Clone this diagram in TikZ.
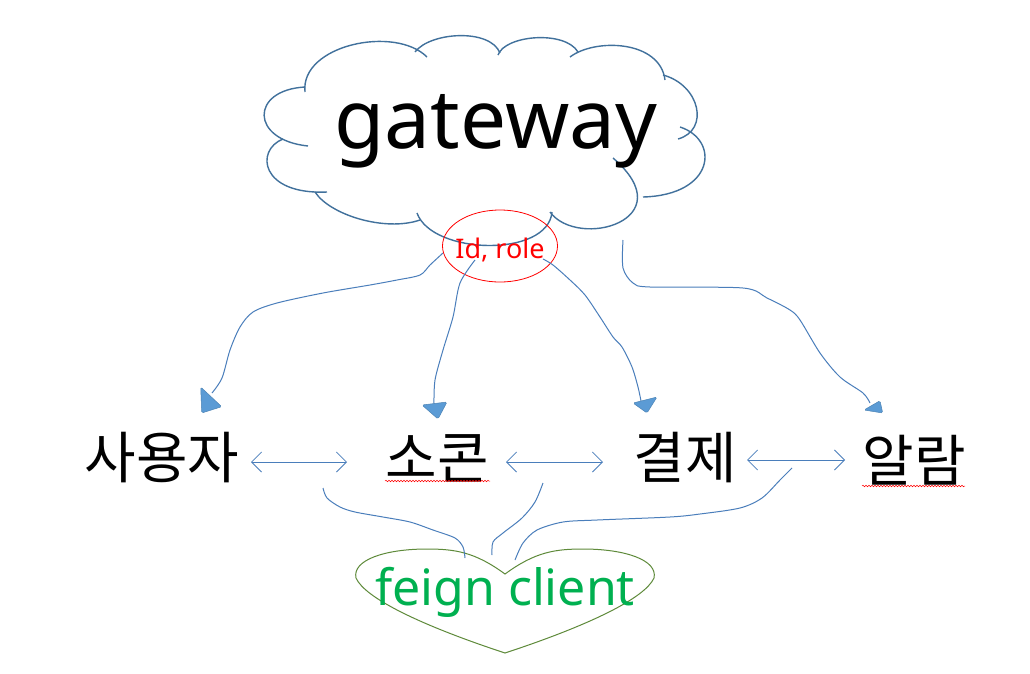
\documentclass[tikz,border=0pt]{standalone}
\usepackage{fontspec}
\setmainfont{Noto Sans}
\newfontfamily\kr{Noto Sans CJK KR}
\usetikzlibrary{arrows.meta,shapes.geometric,decorations.pathmorphing}
\definecolor{cloudc}{HTML}{41719C}
\definecolor{connc}{HTML}{4A7EBB}
\definecolor{headc}{HTML}{5B9BD5}
\definecolor{heartc}{HTML}{5E8A3A}
\definecolor{feignc}{HTML}{00B050}
\tikzset{
  cloudline/.style={draw=cloudc, line width=1.4pt},
  conn/.style={draw=connc, line width=1pt},
  headfill/.style={fill=headc, draw=headc!85!black, line width=0.5pt, rounded corners=1.5pt},
  dbl/.style={draw=connc, line width=0.8pt, {Straight Barb[length=10pt,width=20pt]}-{Straight Barb[length=10pt,width=20pt]}},
  heartline/.style={draw=heartc, line width=1pt},
  squig/.style={draw=red, line width=0.5pt, decorate, decoration={snake, amplitude=0.8pt, segment length=3pt}},
  kt/.style={font=\kr\fontsize{56}{60}\selectfont, inner sep=0pt},
}
\begin{document}
\begin{tikzpicture}[x=1pt,y=-1pt]
\useasboundingbox (0,0) rectangle (1030,673);
\fill[white] (0,0) rectangle (1030,673);

% cloud
\draw[cloudline] (308,146) .. controls (250,140) and (250,90) .. (305,87);
\draw[cloudline] (283,139) .. controls (255,150) and (260,195) .. (327,192);
\draw[cloudline] (315,192) .. controls (330,215) and (385,232) .. (420,220);
\draw[cloudline] (417,213) .. controls (432,255) and (548,258) .. (552,212);
\draw[cloudline] (550,212) .. controls (578,250) and (685,220) .. (613,158);
\draw[cloudline] (680,127) .. controls (720,140) and (715,195) .. (643,197);
\draw[cloudline] (663,75) .. controls (700,85) and (710,130) .. (678,139);
\draw[cloudline] (570,57) .. controls (595,38) and (660,40) .. (665,80);
\draw[cloudline] (498,55) .. controls (505,35) and (565,30) .. (578,52);
\draw[cloudline] (415,52) .. controls (430,32) and (490,28) .. (500,53);
\draw[cloudline] (305,92) .. controls (300,45) and (395,25) .. (427,57);
\node[anchor=base, inner sep=0pt, font=\fontsize{82}{90}\selectfont] (gw) at (496,148) {gateway};

% Id, role ellipse
\node[ellipse, draw=red, line width=0.8pt, minimum width=115pt, minimum height=72pt, inner xsep=-30pt, inner ysep=0pt,
      text=red, font=\fontsize{27}{30}\selectfont, text height=24pt, text depth=0pt] (idr) at (500,246) {Id, role};

% nodes
\node[kt] (user) at (162,458) {사용자};
\node[kt] (socon) at (437,458) {소콘};
\node[kt] (pay) at (685,458) {결제};
\node[kt] (alarm) at (914,460) {알람};

% spell-check squiggles
\draw[squig] (385,481) -- (490,481);
\draw[squig] (862,486) -- (965,486);

% double arrows
\coordinate (d1l) at (251,462); \coordinate (d1r) at (347,462);
\coordinate (d2l) at (506,462); \coordinate (d2r) at (603,462);
\coordinate (d3l) at (747,460); \coordinate (d3r) at (845,460);
\draw[dbl] (d1l) -- (d1r);
\draw[dbl] (d2l) -- (d2r);
\draw[dbl] (d3l) -- (d3r);

% gateway connectors
\coordinate (c1s) at (443,253); \coordinate (c1e) at (212,393);
\coordinate (c2s) at (475,260); \coordinate (c2e) at (434,404);
\coordinate (c3s) at (543,259); \coordinate (c3e) at (641,401);
\coordinate (c4s) at (623,240); \coordinate (c4e) at (870,403);
\draw[conn] plot[smooth, tension=0.5] coordinates {(c1s) (430,265) (420,275) (397,280) (370,285) (323,293) (277,303) (253,312) (240,327) (230,350) (222,378) (c1e)};
\draw[conn] plot[smooth, tension=0.5] coordinates {(c2s) (460,283) (453,317) (443,350) (435,380) (c2e)};
\draw[conn] plot[smooth, tension=0.5] coordinates {(c3s) (553,265) (570,280) (585,295) (600,317) (613,337) (622,347) (632,367) (638,387) (c3e)};
\draw[conn] plot[smooth, tension=0.5] coordinates {(c4s) (623,268) (633,283) (650,287) (743,288) (767,298) (790,310) (800,320) (820,353) (840,377) (863,393) (c4e)};
\path[headfill] (200.7,387) -- (221.7,406.7) -- (201.7,413) -- cycle;
\path[headfill] (422,405) -- (447,402) -- (438,419) -- cycle;
\path[headfill] (633,403) -- (657,397) -- (647,413) -- cycle;
\path[headfill] (864,410) -- (880,400.7) -- (882.7,413) -- cycle;

% heart
\draw[heartline] (505,574) .. controls (475,552) and (455,549) .. (427,549)
  .. controls (385,549) and (352,560) .. (356,578)
  .. controls (365,598) and (420,625) .. (505,653)
  .. controls (590,625) and (645,598) .. (654,578)
  .. controls (658,560) and (625,549) .. (583,549)
  .. controls (555,549) and (535,552) .. (505,574) -- cycle;
\node[anchor=base, inner sep=0pt, text=feignc, font=\fontsize{50}{56}\selectfont] (feign) at (505,605) {feign client};

% feign connectors
\coordinate (f1s) at (323,488); \coordinate (f1e) at (465,558);
\coordinate (f2s) at (543,483); \coordinate (f2e) at (492,555);
\coordinate (f3s) at (792,468); \coordinate (f3e) at (515,560);
\draw[conn] plot[smooth, tension=0.5] coordinates {(f1s) (327,498) (340,507) (355,512) (383,517) (410,522) (433,530) (455,538) (463,547) (f1e)};
\draw[conn] plot[smooth, tension=0.5] coordinates {(f2s) (535,502) (522,518) (503,533) (493,542) (f2e)};
\draw[conn] plot[smooth, tension=0.5] coordinates {(f3s) (780,480) (762,498) (740,508) (700,514) (670,517) (597,520) (563,522) (537,530) (523,543) (f3e)};
\end{tikzpicture}
\end{document}
